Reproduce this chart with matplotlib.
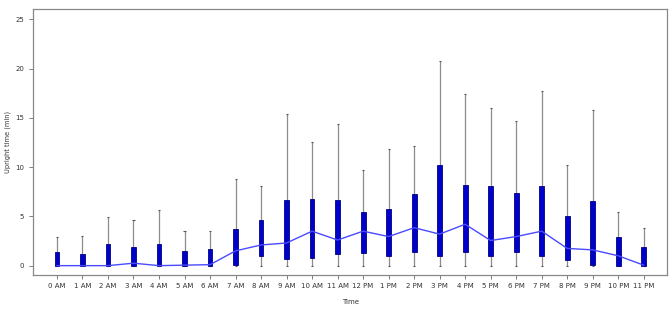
import matplotlib
matplotlib.use("Agg")
import matplotlib.pyplot as plt
import numpy as np

hours = ["0 AM", "1 AM", "2 AM", "3 AM", "4 AM", "5 AM", "6 AM", "7 AM", "8 AM", "9 AM",
         "10 AM", "11 AM", "12 PM", "1 PM", "2 PM", "3 PM", "4 PM", "5 PM", "6 PM", "7 PM",
         "8 PM", "9 PM", "10 PM", "11 PM"]
whisker_low = [0.0] * 24
whisker_high = [2.9, 3.0, 4.9, 4.6, 5.6, 3.5, 3.5, 8.8, 8.1, 15.4, 12.5, 14.4, 9.7, 11.8,
                12.1, 20.8, 17.4, 16.0, 14.7, 17.75, 10.25, 15.75, 5.4, 3.8]
box_low = [0.0, 0.0, 0.0, 0.0, 0.0, 0.0, 0.0, 0.05, 0.95, 0.7, 0.8, 1.2, 1.3, 0.95,
           1.4, 1.0, 1.4, 0.95, 1.35, 1.0, 0.6, 0.05, 0.0, 0.0]
box_high = [1.4, 1.2, 2.2, 1.9, 2.2, 1.5, 1.7, 3.7, 4.6, 6.7, 6.75, 6.7, 5.45, 5.75,
            7.3, 10.2, 8.2, 8.05, 7.35, 8.1, 5.0, 6.55, 2.9, 1.85]
median = [0.0, 0.0, 0.0, 0.25, 0.0, 0.05, 0.1, 1.5, 2.1, 2.3, 3.5, 2.6, 3.5, 2.95,
          3.85, 3.2, 4.2, 2.55, 2.95, 3.5, 1.75, 1.6, 1.0, 0.05]

x = np.arange(len(hours))

fig = plt.figure(figsize=(6.69, 3.09), dpi=100)
ax = fig.add_axes([0.0493, 0.11, 0.948, 0.861])

ax.vlines(x, whisker_low, whisker_high, color="#8c8c8c", lw=0.9, zorder=1)
ax.hlines(whisker_high, x - 0.04, x + 0.04, color="#555555", lw=0.8, zorder=1)
ax.hlines(whisker_low, x - 0.04, x + 0.04, color="#555555", lw=0.8, zorder=1)
heights = np.array(box_high) - np.array(box_low)
ax.bar(x, heights, bottom=box_low, width=0.19, color="#0000CC", edgecolor="#000080",
       linewidth=0.6, zorder=2)
ax.plot(x, median, color="#4a4aff", lw=1.0, zorder=3)

ax.set_xlim(-0.94, 23.92)
ax.set_ylim(-0.95, 26.05)
ax.set_xticks(x)
ax.set_xticklabels(hours)
ax.set_yticks([0, 5, 10, 15, 20, 25])
ax.tick_params(axis="both", labelsize=5, length=3, width=0.6, color="#666666",
               labelcolor="#333333")
ax.tick_params(axis="x", pad=3)
for s in ax.spines.values():
    s.set_color("#888888")
    s.set_linewidth(0.9)
ax.set_xlabel("Time", fontsize=5, color="#333333", labelpad=7)
ax.set_ylabel("Upright time (min)", fontsize=4.8, color="#333333")
ax.yaxis.set_label_coords(-0.034, 0.5)

fig.savefig("out.png", dpi=100)
